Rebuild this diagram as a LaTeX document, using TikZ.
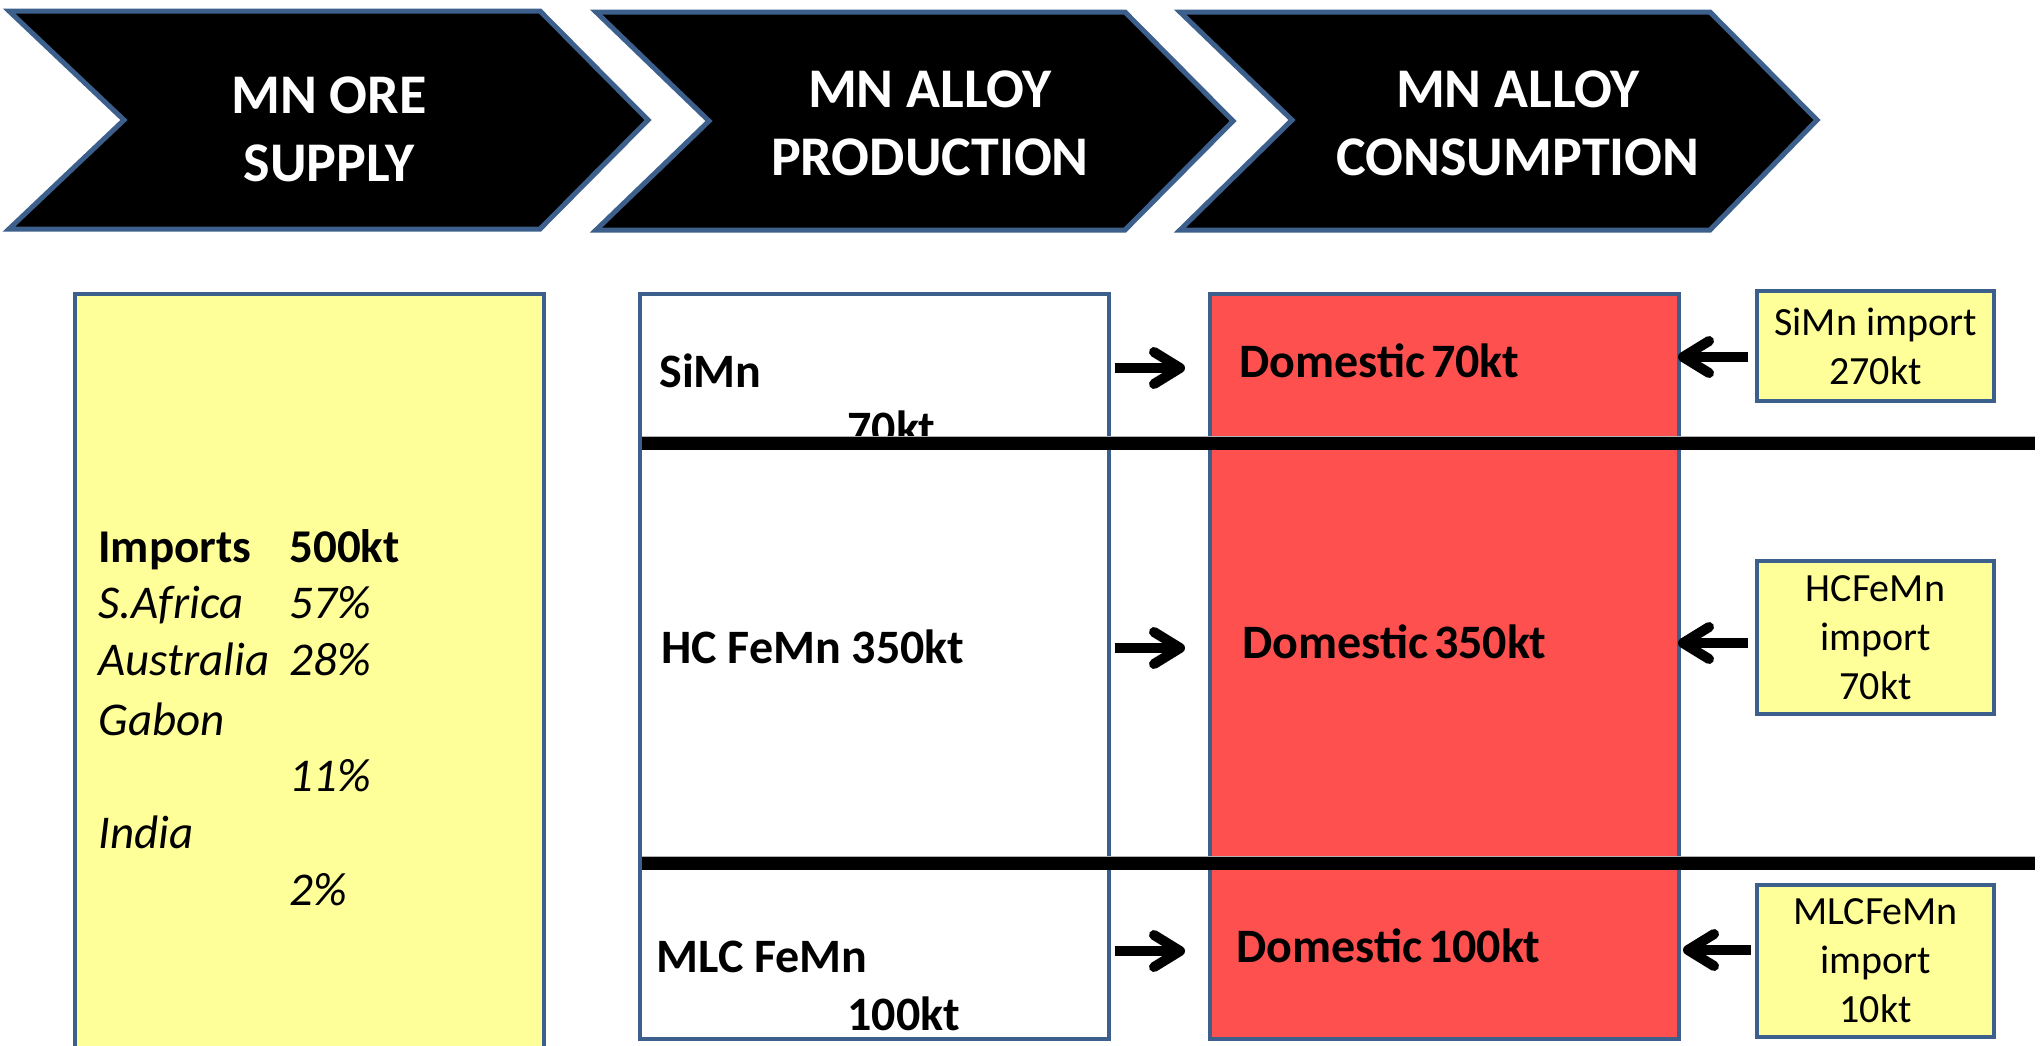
\documentclass[tikz,border=0pt]{standalone}
\usepackage{fontspec}
\setmainfont{Carlito}
\usetikzlibrary{arrows.meta}
\definecolor{bordblue}{HTML}{3C5F8C}
\definecolor{lyellow}{HTML}{FFFF99}
\definecolor{dred}{HTML}{FF5050}
\tikzset{
  chev/.style={draw=bordblue, line width=2.5pt, fill=black, line join=miter},
  chevtext/.style={text=white, font=\fontsize{28}{34}\selectfont\bfseries, align=center, inner sep=0pt},
  bigbox/.style={draw=bordblue, line width=2.2pt, anchor=north west, inner sep=0pt},
  lbl/.style={font=\fontsize{24}{29}\selectfont\bfseries, anchor=base west, inner sep=0pt},
  ore/.style={font=\fontsize{23.5}{28}\selectfont, anchor=base west, inner sep=0pt},
  impbox/.style={draw=bordblue, line width=2pt, fill=lyellow, minimum width=118.5pt, align=center, font=\fontsize{20}{24.5}\selectfont, inner sep=0pt},
  flow/.style={line width=5pt, -{Straight Barb[length=13pt,width=16pt,line cap=round,line join=round]}},
  divider/.style={line width=6.5pt, black},
  dividerrim/.style={line width=7.2pt, gray!60},
}
\newcommand{\tightsp}{\hspace{0.12em}}
\begin{document}
\begin{tikzpicture}[x=0.5pt,y=-0.5pt]
\useasboundingbox (0,0) rectangle (2044,1045);
\clip (0,0) rectangle (2044,1045);

% chevrons
\draw[chev] (9,11) -- (540,11) -- (648,120) -- (540,229) -- (9,229) -- (124,120) -- cycle;
\draw[chev] (596,12) -- (1125,12) -- (1233,121) -- (1125,230) -- (596,230) -- (709,121) -- cycle;
\draw[chev] (1180,12) -- (1710,12) -- (1817,120) -- (1710,230) -- (1180,230) -- (1292,120) -- cycle;
\node[chevtext] (h1) at (329,129) {MN ORE\\SUPPLY};
\node[chevtext] (h2) at (930,123) {MN ALLOY\\PRODUCTION};
\node[chevtext] (h3) at (1518,123) {MN ALLOY\\CONSUMPTION};

% ore supply box
\node[bigbox, fill=lyellow, minimum width=234.5pt, minimum height=384pt] (orebox) at (73,292) {};
\node[ore, font=\fontsize{23.5}{28}\selectfont\bfseries] (imp) at (98,562) {Imports};
\node[ore, font=\fontsize{23.5}{28}\selectfont\bfseries] (impv) at (289,562) {500kt};
\node[ore, font=\fontsize{23.5}{28}\selectfont\itshape] (c1) at (98,618) {S.Africa};
\node[ore, font=\fontsize{23.5}{28}\selectfont\itshape] (v1) at (289,618) {57\%};
\node[ore, font=\fontsize{23.5}{28}\selectfont\itshape] (c2) at (98,675) {Australia};
\node[ore, font=\fontsize{23.5}{28}\selectfont\itshape] (v2) at (289,675) {28\%};
\node[ore, font=\fontsize{23.5}{28}\selectfont\itshape] (c3) at (98,735) {Gabon};
\node[ore, font=\fontsize{23.5}{28}\selectfont\itshape] (v3) at (289,791) {11\%};
\node[ore, font=\fontsize{23.5}{28}\selectfont\itshape] (c4) at (98,848) {India};
\node[ore, font=\fontsize{23.5}{28}\selectfont\itshape] (v4) at (289,905) {2\%};

% production box
\node[bigbox, fill=white, line width=2pt, minimum width=234.5pt, minimum height=372.5pt] (prod) at (638,292) {};
\node[lbl] (p1) at (659,387) {SiMn};
\node[lbl] (p1v) at (847,444) {70kt};
\node[lbl] (p2) at (661,663) {HC FeMn 350kt};
\node[lbl] (p3) at (656,972) {MLC FeMn};
\node[lbl] (p3v) at (847,1030) {100kt};

% consumption box
\node[bigbox, fill=dred, line width=2pt, minimum width=234.5pt, minimum height=372.5pt] (cons) at (1208,292) {};
\node[lbl] (d1) at (1239,377) {Domestic\tightsp 70kt};
\node[lbl] (d2) at (1242,658) {Domestic\tightsp 350kt};
\node[lbl] (d3) at (1236,962) {Domestic\tightsp 100kt};

% import boxes
\node[impbox, minimum height=55pt] (i1) at (1875.5,346) {SiMn import\\270kt};
\node[impbox, minimum height=76.5pt] (i2) at (1875.5,637.5) {HCFeMn\\import\\70kt};
\node[impbox, minimum height=76pt] (i3) at (1875.5,961) {MLCFeMn\\import\\10kt};

% dividers
\coordinate (l1a) at (642,443); \coordinate (l1b) at (2035,443);
\coordinate (l2a) at (642,863); \coordinate (l2b) at (2035,863);
\draw[dividerrim] (l1a) -- (l1b);
\draw[divider] (l1a) -- (l1b);
\draw[dividerrim] (l2a) -- (l2b);
\draw[divider] (l2a) -- (l2b);

% flow arrows
\coordinate (r1s) at (1115,368); \coordinate (r1e) at (1185,368);
\coordinate (r2s) at (1115,648); \coordinate (r2e) at (1185,648);
\coordinate (r3s) at (1115,951); \coordinate (r3e) at (1185,951);
\draw[flow] (r1s) -- (r1e);
\draw[flow] (r2s) -- (r2e);
\draw[flow] (r3s) -- (r3e);
\coordinate (m1s) at (1748,357); \coordinate (m1e) at (1678,357);
\coordinate (m2s) at (1748,643); \coordinate (m2e) at (1678,643);
\coordinate (m3s) at (1751,950); \coordinate (m3e) at (1683,950);
\draw[flow] (m1s) -- (m1e);
\draw[flow] (m2s) -- (m2e);
\draw[flow] (m3s) -- (m3e);
\end{tikzpicture}
\end{document}
